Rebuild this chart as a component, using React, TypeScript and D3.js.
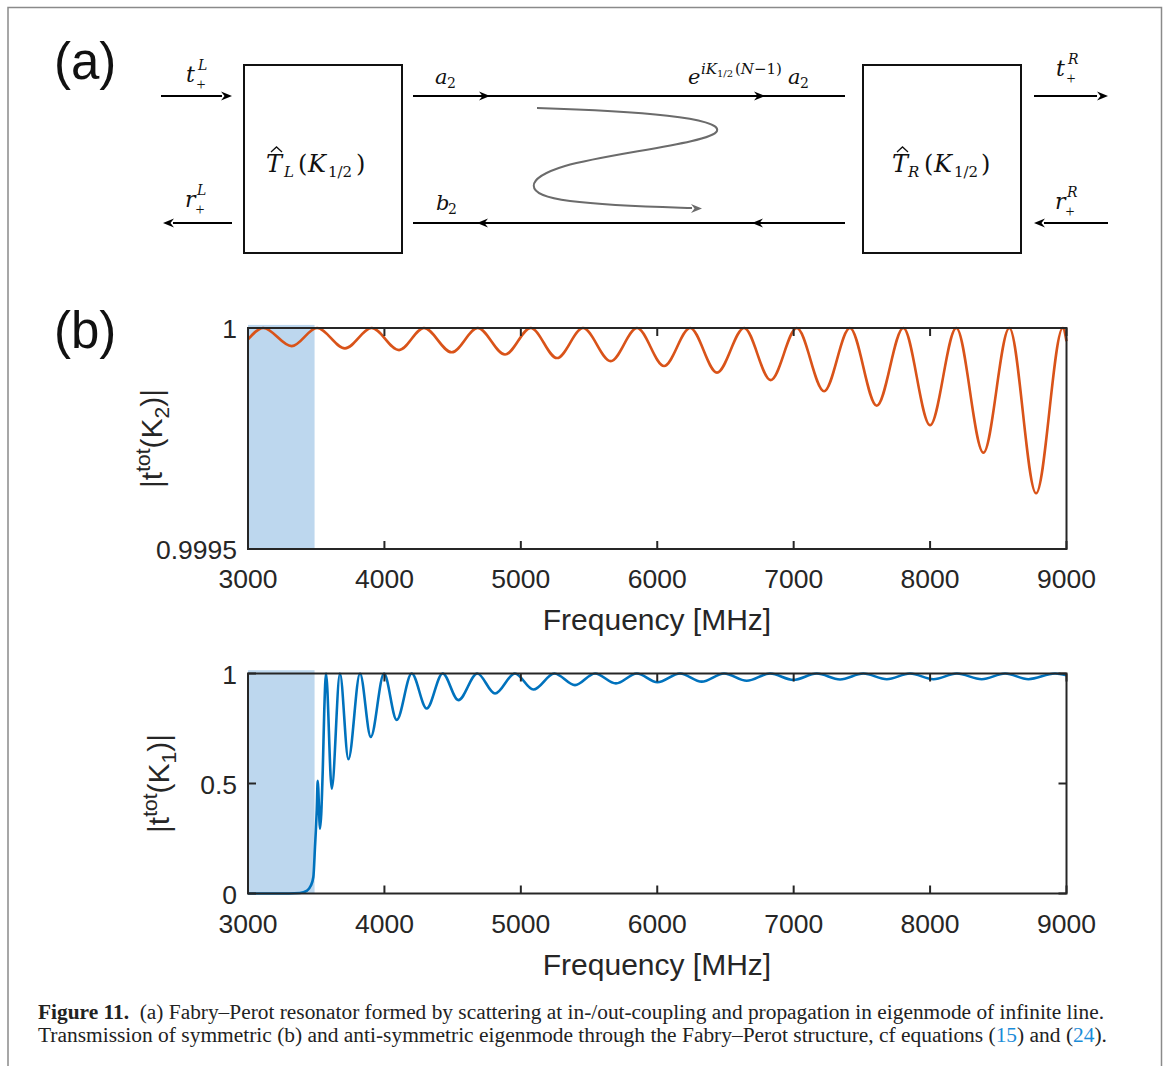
import React from 'react';
import * as d3 from 'd3';

// frequency axis, shared by both panels
const freqDomain = [3000, 9000];
const freqTicks = [3000, 4000, 5000, 6000, 7000, 8000, 9000];
const freqTickLabels = ['3000', '4000', '5000', '6000', '7000', '8000', '9000'];
const stopBand = [3000, 3488];

// |t_tot(K2)| : symmetric eigenmode, peaks and troughs
const k2Freq = [
  3000, 3112, 3320, 3506, 3711, 3907, 4107, 4290, 4493, 4684, 4884, 5073, 5265, 5456, 5659,
  5852, 6050, 6241, 6438, 6637, 6832, 7023, 7223, 7412, 7609, 7804, 8000, 8192, 8391, 8581,
  8777, 8973, 9000,
];
const k2Mag = [
  0.999974, 1.0, 0.999959, 1.0, 0.999954, 1.0, 0.99995, 1.0, 0.999945, 1.0, 0.99994, 1.0,
  0.999932, 1.0, 0.999925, 1.0, 0.999914, 1.0, 0.999899, 1.0, 0.999882, 1.0, 0.999857, 1.0,
  0.999824, 1.0, 0.99978, 1.0, 0.999718, 1.0, 0.999626, 1.0, 0.99997,
];
const k2YTicks = [0.9995, 1];
const k2YTickLabels = ['0.9995', '1'];

// |t_tot(K1)| : anti-symmetric eigenmode
const k1Freq = [
  3000, 3300, 3380, 3430, 3460, 3479, 3491, 3504, 3511, 3528, 3548, 3559, 3572, 3614, 3674,
  3736, 3821, 3900, 3997, 4090, 4200, 4310, 4427, 4542, 4681, 4811, 4957, 5092, 5246, 5397,
  5544, 5697, 5850, 6001, 6167, 6326, 6490, 6656, 6827, 6998, 7169, 7340, 7511, 7683, 7853,
  8025, 8196, 8379, 8550, 8721, 8916, 9000,
];
const k1Mag = [
  0, 0, 0.002, 0.012, 0.035, 0.075, 0.21, 0.38, 0.512, 0.295, 0.56, 0.83, 1.0, 0.477, 1.0,
  0.61, 1.0, 0.712, 1.0, 0.789, 1.0, 0.841, 1.0, 0.879, 1.0, 0.909, 1.0, 0.927, 1.0, 0.947,
  1.0, 0.955, 1.0, 0.96, 1.0, 0.963, 1.0, 0.967, 1.0, 0.971, 1.0, 0.973, 1.0, 0.974, 1.0,
  0.974, 1.0, 0.974, 1.0, 0.974, 1.0, 0.992,
];
const k1YTicks = [0, 0.5, 1];
const k1YTickLabels = ['0', '0.5', '1'];

const captionLine1 =
  '(a) Fabry\u2013Perot resonator formed by scattering at in-/out-coupling and propagation in eigenmode of infinite line.';
const captionLine2a = 'Transmission of symmetric (b) and anti-symmetric eigenmode through the Fabry\u2013Perot structure, cf equations (';

const SANS = 'Liberation Sans, Arial, Helvetica, sans-serif';
const SERIF = 'Liberation Serif, Times New Roman, serif';
const MATH = 'DejaVu Serif, serif';
const AXIS = '#262626';

function arrowHead(x, y, dir, fill = '#000') {
  const d = `M${x},${y}L${x - dir * 11},${y - 4.5}L${x - dir * 7.5},${y}L${x - dir * 11},${y + 4.5}Z`;
  return <path d={d} fill={fill} />;
}

// symbol with a superscript and a "+" subscript stacked after it
function Scattered({ x, y, sym, sup }) {
  return (
    <g>
      <text x={x} y={y} fontFamily={MATH} fontSize={22} fontStyle="italic">{sym}</text>
      <text x={x + 12} y={y - 12} fontFamily={MATH} fontSize={14} fontStyle="italic">{sup}</text>
      <text x={x + 10.5} y={y + 8} fontFamily={SERIF} fontSize={16}>+</text>
    </g>
  );
}

function Panel({ top, bottom, yDomain, freq, mag, color, yTicks, yTickLabels, sub, shadeTop, yLabelX }) {
  const x = d3.scaleLinear().domain(freqDomain).range([248, 1066.5]);
  const y = d3.scaleLinear().domain(yDomain).range([bottom, top]);
  const line = d3
    .line<number>()
    .x((_, i) => x(freq[i]))
    .y((d) => y(d))
    .curve(d3.curveMonotoneX);
  const left = x(freqDomain[0]);
  const right = x(freqDomain[1]);
  const midY = (top + bottom) / 2;

  return (
    <g>
      <rect
        x={x(stopBand[0])}
        y={y(shadeTop)}
        width={x(stopBand[1]) - x(stopBand[0])}
        height={bottom - y(shadeTop)}
        fill="#bdd7ee"
      />
      <path d={line(mag)} fill="none" stroke={color} strokeWidth={2.6} strokeLinejoin="round" />
      <rect x={left} y={top} width={right - left} height={bottom - top} fill="none" stroke={AXIS} strokeWidth={2} />
      {freqTicks.map((t) => (
        <g key={t}>
          <line x1={x(t)} x2={x(t)} y1={bottom} y2={bottom - 8} stroke={AXIS} strokeWidth={2} />
          <line x1={x(t)} x2={x(t)} y1={top} y2={top + 8} stroke={AXIS} strokeWidth={2} />
        </g>
      ))}
      {yTicks.map((t) => (
        <g key={t}>
          <line x1={left} x2={left + 8} y1={y(t)} y2={y(t)} stroke={AXIS} strokeWidth={2} />
          <line x1={right} x2={right - 8} y1={y(t)} y2={y(t)} stroke={AXIS} strokeWidth={2} />
        </g>
      ))}
      <g fontFamily={SANS} fontSize={26.5} fill={AXIS}>
        {freqTicks.map((t, i) => (
          <text key={t} x={x(t)} y={bottom + 39} textAnchor="middle">
            {freqTickLabels[i]}
          </text>
        ))}
        {yTicks.map((t, i) => (
          <text key={t} x={left - 11} y={y(t) + 10} textAnchor="end">
            {yTickLabels[i]}
          </text>
        ))}
      </g>
      <text x={657} y={bottom + 81} textAnchor="middle" fontFamily={SANS} fontSize={30} fill={AXIS}>
        Frequency [MHz]
      </text>
      <text
        transform={`translate(${yLabelX},${midY}) rotate(-90)`}
        textAnchor="middle"
        fontFamily={SANS}
        fontSize={30}
        fill={AXIS}
      >
        |t<tspan fontSize={21} dy={-12}>tot</tspan>
        <tspan dy={12}>(K</tspan>
        <tspan fontSize={21} dy={7}>{sub}</tspan>
        <tspan dy={-7}>)|</tspan>
      </text>
    </g>
  );
}

function Diagram() {
  const lw = 2;
  return (
    <g>
      <text x={54} y={79} fontFamily={SANS} fontSize={51} fill="#111">(a)</text>

      {/* boxes */}
      <rect x={244} y={65} width={158} height={188} fill="none" stroke="#111" strokeWidth={lw} />
      <rect x={863} y={65} width={158} height={188} fill="none" stroke="#111" strokeWidth={lw} />

      {/* outer arrows */}
      <line x1={161} x2={222} y1={96} y2={96} stroke="#000" strokeWidth={lw} />
      {arrowHead(232, 96, 1)}
      <line x1={173} x2={232} y1={223} y2={223} stroke="#000" strokeWidth={lw} />
      {arrowHead(163, 223, -1)}
      <line x1={1034} x2={1097} y1={96} y2={96} stroke="#000" strokeWidth={lw} />
      {arrowHead(1108, 96, 1)}
      <line x1={1044} x2={1108} y1={223} y2={223} stroke="#000" strokeWidth={lw} />
      {arrowHead(1034, 223, -1)}

      {/* inner lines */}
      <line x1={413} x2={845} y1={96} y2={96} stroke="#000" strokeWidth={lw} />
      {arrowHead(490, 96, 1)}
      {arrowHead(765, 96, 1)}
      <line x1={413} x2={845} y1={223} y2={223} stroke="#000" strokeWidth={lw} />
      {arrowHead(477, 223, -1)}
      {arrowHead(752, 223, -1)}

      {/* bouncing wave */}
      <path
        d="M537,108 C640,111 722,118 717,131 C712,143 610,153 565,166 C525,178 520,195 570,201 C610,206 660,207 692,208"
        fill="none"
        stroke="#6b6b6b"
        strokeWidth={2}
      />
      {arrowHead(702, 208.5, 1, '#6b6b6b')}

      <g fill="#111">
        <Scattered x={186} y={82} sym="t" sup="L" />
        <Scattered x={185} y={207} sym="r" sup="L" />
        <Scattered x={1056} y={76} sym="t" sup="R" />
        <Scattered x={1055} y={209} sym="r" sup="R" />

        {/* a2, b2 */}
        <text x={435} y={84} fontFamily={MATH} fontSize={21} fontStyle="italic">a</text>
        <text x={447} y={88} fontFamily={MATH} fontSize={14}>2</text>
        <text x={436} y={210} fontFamily={MATH} fontSize={21} fontStyle="italic">b</text>
        <text x={448} y={214} fontFamily={MATH} fontSize={14}>2</text>

        {/* e^{iK_{1/2}(N-1)} a2 */}
        <text x={688} y={84} fontFamily={MATH} fontSize={21} fontStyle="italic">e</text>
        <text x={701} y={74} fontFamily={MATH} fontSize={15} fontStyle="italic">iK</text>
        <text x={717} y={77} fontFamily={MATH} fontSize={10}>1/2</text>
        <text x={735} y={74} fontFamily={MATH} fontSize={15}>(<tspan fontStyle="italic">N</tspan>{'\u2212'}1)</text>
        <text x={788} y={84} fontFamily={MATH} fontSize={21} fontStyle="italic">a</text>
        <text x={800} y={88} fontFamily={MATH} fontSize={14}>2</text>

        {/* box labels */}
        <path d="M271,152 L276.5,147 L282,152" fill="none" stroke="#111" strokeWidth={1.3} />
        <text x={266} y={172} fontFamily={MATH} fontSize={24} fontStyle="italic">T</text>
        <text x={284} y={177} fontFamily={MATH} fontSize={15} fontStyle="italic">L</text>
        <text x={298} y={172} fontFamily={MATH} fontSize={24}>(</text>
        <text x={308} y={172} fontFamily={MATH} fontSize={24} fontStyle="italic">K</text>
        <text x={328} y={177} fontFamily={MATH} fontSize={15}>1/2</text>
        <text x={356} y={172} fontFamily={MATH} fontSize={24}>)</text>

        <path d="M897,152 L902.5,147 L908,152" fill="none" stroke="#111" strokeWidth={1.3} />
        <text x={892} y={172} fontFamily={MATH} fontSize={24} fontStyle="italic">T</text>
        <text x={908} y={177} fontFamily={MATH} fontSize={15} fontStyle="italic">R</text>
        <text x={924} y={172} fontFamily={MATH} fontSize={24}>(</text>
        <text x={934} y={172} fontFamily={MATH} fontSize={24} fontStyle="italic">K</text>
        <text x={954} y={177} fontFamily={MATH} fontSize={15}>1/2</text>
        <text x={981} y={172} fontFamily={MATH} fontSize={24}>)</text>
      </g>
    </g>
  );
}

export default function App() {
  return (
    <svg
      width={1165}
      height={1066}
      style={{ position: 'absolute', left: 0, top: 0, background: '#fff' }}
    >
      <rect x={0} y={0} width={1165} height={1066} fill="#fff" />
      <path d="M8,1066 L8,7.5 L1161.5,7.5 L1161.5,1066" fill="none" stroke="#8a8a8a" strokeWidth={1.5} />

      <Diagram />

      <text x={54} y={348} fontFamily={SANS} fontSize={51} fill="#111">(b)</text>

      <Panel
        top={328}
        bottom={549}
        yDomain={[0.9995, 1]}
        freq={k2Freq}
        mag={k2Mag}
        color="#d95319"
        yTicks={k2YTicks}
        yTickLabels={k2YTickLabels}
        sub="2"
        shadeTop={1.000007}
        yLabelX={162}
      />
      <Panel
        top={673.5}
        bottom={893.5}
        yDomain={[0, 1]}
        freq={k1Freq}
        mag={k1Mag}
        color="#0072bd"
        yTicks={k1YTicks}
        yTickLabels={k1YTickLabels}
        sub="1"
        shadeTop={1.015}
        yLabelX={169}
      />

      <g fontFamily={SERIF} fontSize={20} fill="#222">
        <text x={38} y={1019} textLength={1066} lengthAdjust="spacingAndGlyphs">
          <tspan fontWeight="bold">Figure 11.</tspan>
          {'\u00a0\u00a0' + captionLine1}
        </text>
        <text x={38} y={1042} textLength={1069} lengthAdjust="spacingAndGlyphs">
          {captionLine2a}
          <tspan fill="#1a8cd8">15</tspan>
          {') and ('}
          <tspan fill="#1a8cd8">24</tspan>
          {').'}
        </text>
      </g>
    </svg>
  );
}
